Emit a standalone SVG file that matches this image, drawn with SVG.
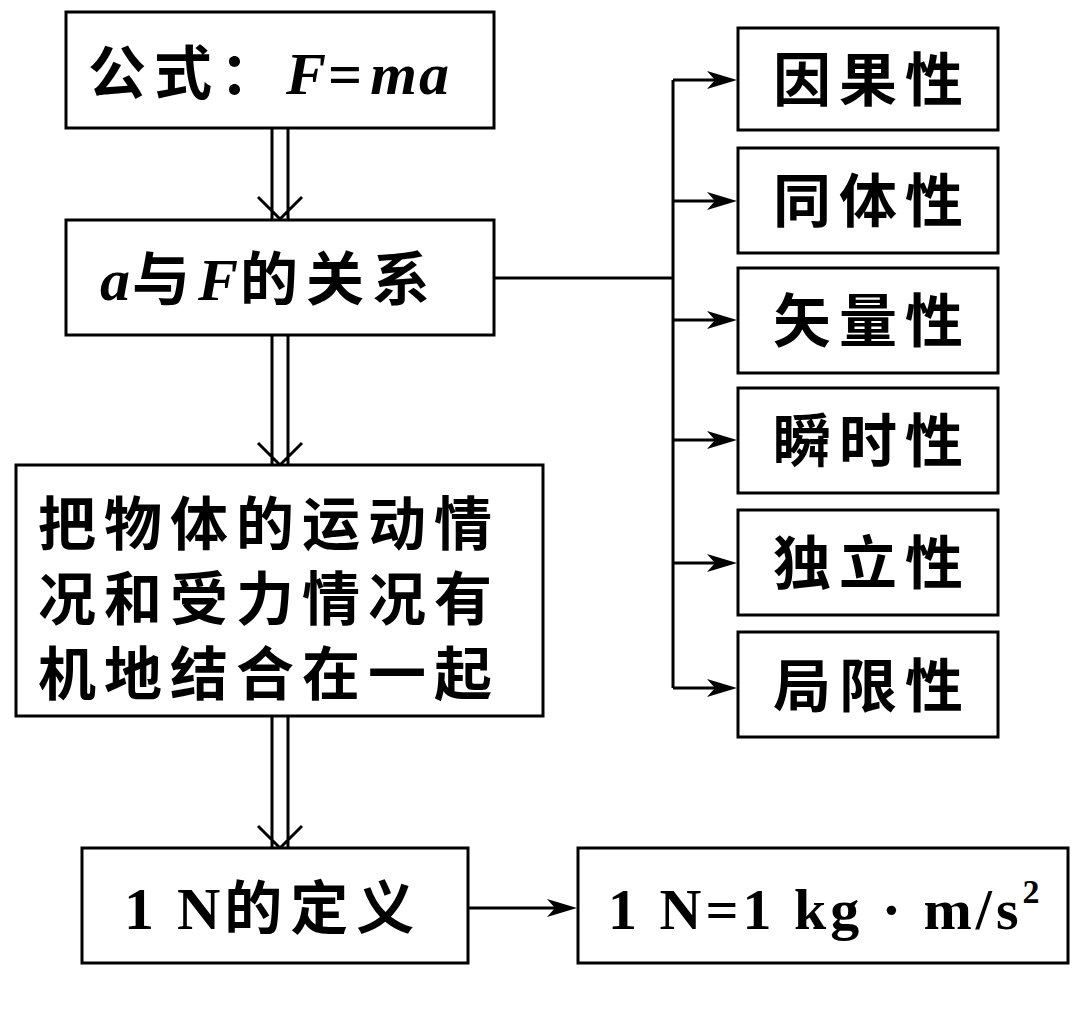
<svg xmlns="http://www.w3.org/2000/svg" width="1080" height="1009" viewBox="0 0 1080 1009">
<defs>
<style>
.b{fill:#fff;stroke:#000;stroke-width:3}
.t{font-family:"Noto Sans CJK SC","Liberation Serif",serif;font-size:58px;font-weight:bold;fill:#000;letter-spacing:8px}
.i{font-family:"Liberation Serif",serif;font-style:italic;font-weight:bold;letter-spacing:2px}
.n{font-family:"Liberation Serif",serif;font-weight:bold}
.l{fill:none;stroke:#000;stroke-width:3}
.h{fill:#000}
</style>
</defs>
<g id="connectors">
<path class="l" d="M272,128V219M288,128V219M258,197L280,219L302,197"/>
<path class="l" d="M272,335V465M288,335V465M258,443L280,465L302,443"/>
<path class="l" d="M272,716V848M288,716V848M258,826L280,848L302,826"/>
<path class="l" d="M494,278H673M673,80V688"/>
<path class="l" d="M673,80H720M673,201H720M673,320H720M673,440H720M673,563H720M673,688H720M468,908H560"/>
<g class="h">
<path d="M737,80L707,71L715,80L707,89Z"/>
<path d="M737,201L707,192L715,201L707,210Z"/>
<path d="M737,320L707,311L715,320L707,329Z"/>
<path d="M737,440L707,431L715,440L707,449Z"/>
<path d="M737,563L707,554L715,563L707,572Z"/>
<path d="M737,688L707,679L715,688L707,697Z"/>
<path d="M577,908L547,899L555,908L547,917Z"/>
</g>
</g>
<g id="n1"><rect class="b" x="66" y="12" width="428" height="116"/><text class="t" x="88" y="94">公式：<tspan class="i" font-size="60">F</tspan><tspan class="n" font-size="60">=</tspan><tspan class="i" font-size="60">ma</tspan></text></g>
<g id="n2"><rect class="b" x="66" y="220" width="428" height="115"/><text class="t" x="100" y="300"><tspan class="i" font-size="60">a</tspan>与<tspan class="i" font-size="60">F</tspan>的关系</text></g>
<g id="n3"><rect class="b" x="16" y="465" width="527" height="251"/>
<text class="t" x="38" y="545">把物体的运动情</text><text class="t" x="38" y="620">况和受力情况有</text><text class="t" x="38" y="695">机地结合在一起</text></g>
<g id="n4"><rect class="b" x="82" y="848" width="386" height="115"/><text class="t" x="124" y="929"><tspan class="n" font-size="60" letter-spacing="4">1 N</tspan>的定义</text></g>
<g id="n5"><rect class="b" x="578" y="848" width="490" height="115"/><text class="n" font-size="58" x="608" y="929" letter-spacing="4">1 N=1 kg · m/s<tspan font-size="34" dy="-26">2</tspan></text></g>
<g id="r1"><rect class="b" x="738" y="28" width="260" height="102"/><text class="t" x="872" y="101" text-anchor="middle">因果性</text></g>
<g id="r2"><rect class="b" x="738" y="148" width="260" height="105"/><text class="t" x="872" y="222" text-anchor="middle">同体性</text></g>
<g id="r3"><rect class="b" x="738" y="268" width="260" height="105"/><text class="t" x="872" y="342" text-anchor="middle">矢量性</text></g>
<g id="r4"><rect class="b" x="738" y="388" width="260" height="105"/><text class="t" x="872" y="462" text-anchor="middle">瞬时性</text></g>
<g id="r5"><rect class="b" x="738" y="510" width="260" height="105"/><text class="t" x="872" y="584" text-anchor="middle">独立性</text></g>
<g id="r6"><rect class="b" x="738" y="632" width="260" height="105"/><text class="t" x="872" y="707" text-anchor="middle">局限性</text></g>
</svg>
